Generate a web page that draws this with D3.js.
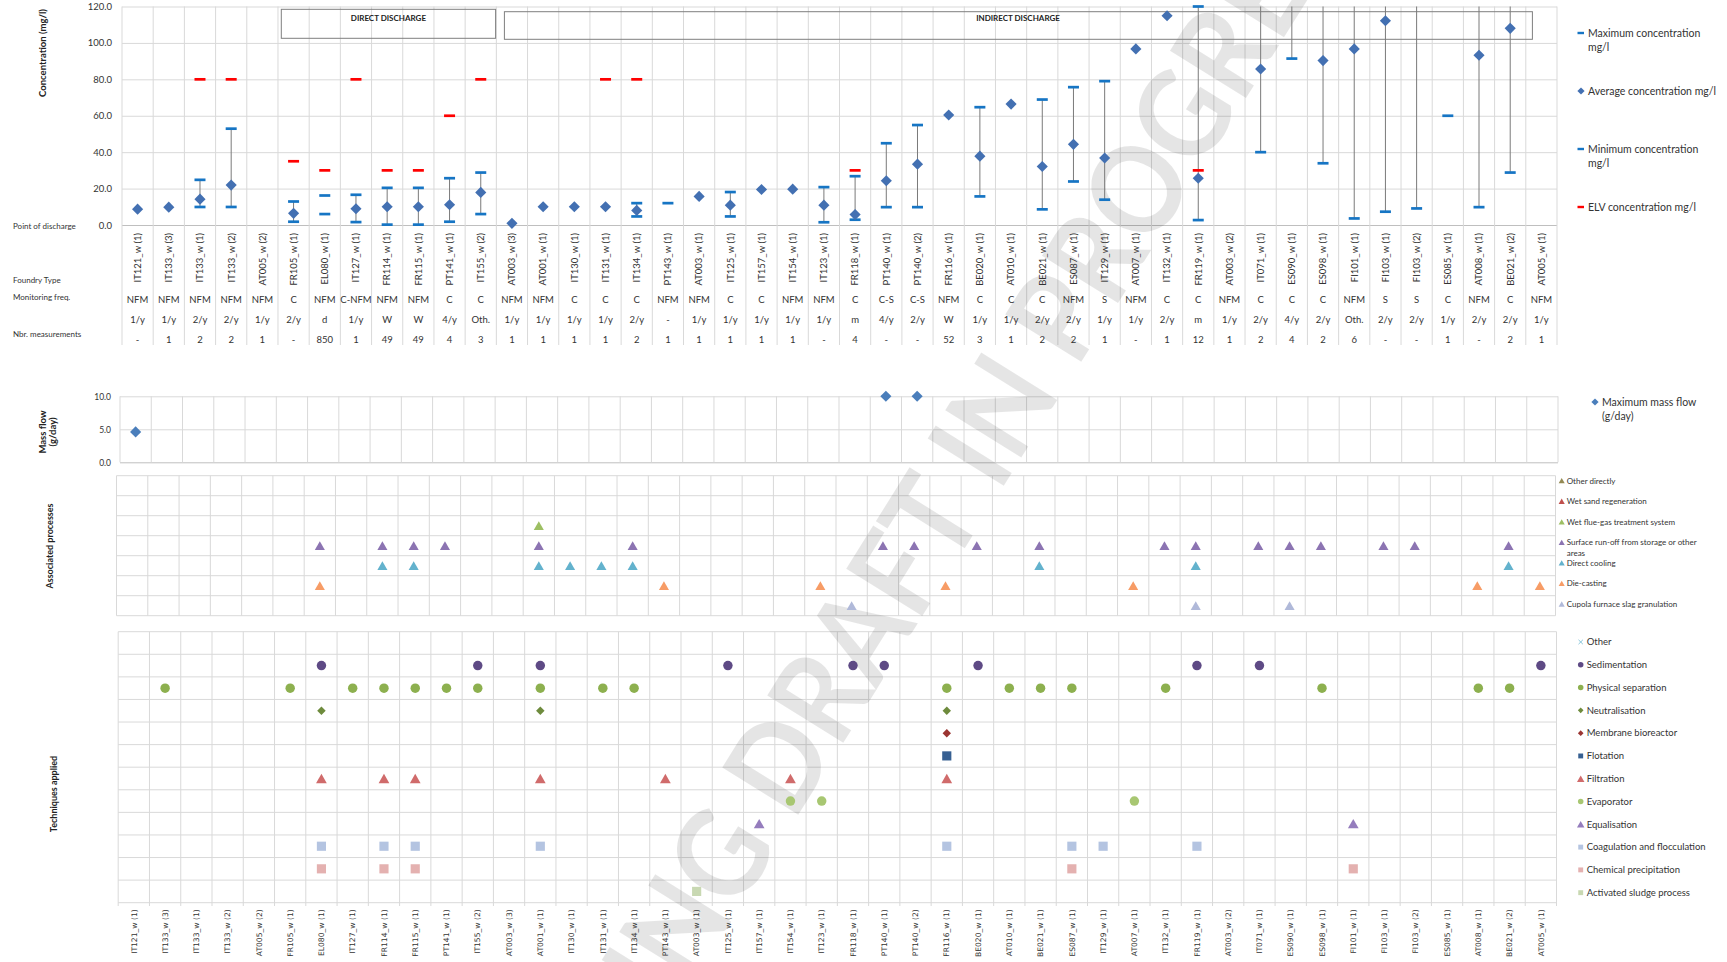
<!DOCTYPE html>
<html>
<head>
<meta charset="utf-8">
<script src="https://cdn.jsdelivr.net/npm/d3@7"></script>
<style>
  html, body { margin: 0; padding: 0; background: #fff; }
  svg { display: block; font-family: Lato, "Liberation Sans", sans-serif; }
</style>
</head>
<body>
<svg id="chart" width="1727" height="962"></svg>
<script>
// ---------------- data ----------------
const categories = ["IT121_w (1)","IT133_w (3)","IT133_w (1)","IT133_w (2)","AT005_w (2)","FR105_w (1)","EL080_w (1)","IT127_w (1)","FR114_w (1)","FR115_w (1)","PT141_w (1)","IT155_w (2)","AT003_w (3)","AT001_w (1)","IT130_w (1)","IT131_w (1)","IT134_w (1)","PT143_w (1)","AT003_w (1)","IT125_w (1)","IT157_w (1)","IT154_w (1)","IT123_w (1)","FR118_w (1)","PT140_w (1)","PT140_w (2)","FR116_w (1)","BE020_w (1)","AT010_w (1)","BE021_w (1)","ES087_w (1)","IT129_w (1)","AT007_w (1)","IT132_w (1)","FR119_w (1)","AT003_w (2)","IT071_w (1)","ES090_w (1)","ES098_w (1)","FI101_w (1)","FI103_w (1)","FI103_w (2)","ES085_w (1)","AT008_w (1)","BE021_w (2)","AT005_w (1)"];

// concentrations in mg/l (values above 120 run off the top of the axis)
const maxConc = [null,null,24.8,52.9,null,12.9,16.2,16.6,20.4,20.4,25.7,28.8,null,null,null,null,12.0,12.0,null,18.1,null,null,20.8,26.8,44.9,54.9,null,64.7,null,68.9,75.7,79.0,null,null,120.0,null,180,180,180,180,180,180,null,180,180,null];
const avgConc = [8.7,9.8,14.2,21.9,null,6.4,null,8.9,10.0,10.0,11.1,17.9,0.9,10.0,10.0,10.0,8.0,null,15.7,10.9,19.5,19.7,10.9,5.7,24.3,33.4,60.4,37.8,66.4,32.1,44.3,36.8,96.7,114.9,25.7,null,85.7,130,90.3,96.7,112.2,125,null,93.2,108.0,null];
const minConc = [null,null,9.9,9.9,null,1.8,6.0,1.6,0.2,0.2,1.8,6.0,null,null,null,null,4.7,null,null,4.7,null,null,1.5,2.9,9.8,9.8,null,15.7,null,8.6,23.9,13.9,null,null,2.7,null,40.0,91.4,33.9,3.6,7.3,9.1,60.0,9.8,28.8,null];
const elvConc = [null,null,80,80,null,35,30,80,30,30,60,80,null,null,null,80,80,null,null,null,null,null,null,30,null,null,null,null,null,null,null,null,null,null,30,null,null,null,null,null,null,null,null,null,null,null];
const concTicks = [0,20,40,60,80,100,120];

const foundryType = ["NFM","NFM","NFM","NFM","NFM","C","NFM","C-NFM","NFM","NFM","C","C","NFM","NFM","C","C","C","NFM","NFM","C","C","NFM","NFM","C","C-S","C-S","NFM","C","C","C","NFM","S","NFM","C","C","NFM","C","C","C","NFM","S","S","C","NFM","C","NFM"];
const monitoringFreq = ["1/y","1/y","2/y","2/y","1/y","2/y","d","1/y","W","W","4/y","Oth.","1/y","1/y","1/y","1/y","2/y","-","1/y","1/y","1/y","1/y","1/y","m","4/y","2/y","W","1/y","1/y","2/y","2/y","1/y","1/y","2/y","m","1/y","2/y","4/y","2/y","Oth.","2/y","2/y","1/y","2/y","2/y","1/y"];
const nbrMeasurements = ["-","1","2","2","1","-","850","1","49","49","4","3","1","1","1","1","2","1","1","1","1","1","-","4","-","-","52","3","1","2","2","1","-","1","12","1","2","4","2","6","-","-","1","-","2","1"];

// maximum mass flow in g/day
const massFlow = [4.6,null,null,null,null,null,null,null,null,null,null,null,null,null,null,null,null,null,null,null,null,null,null,null,10.0,10.0,null,null,null,null,null,null,null,null,null,null,null,null,null,null,null,null,null,null,null,null];
const massTicks = [0,5,10];

// associated processes, top row first
const processNames = ["Other directly","Wet sand regeneration","Wet flue-gas treatment system","Surface run-off from storage or other areas","Direct cooling","Die-casting","Cupola furnace slag granulation"];
const processOtherDirectly = [];
const processWetSand = [];
const processWetFlueGas = ["AT001_w (1)"];
const processSurfaceRunoff = ["EL080_w (1)","FR114_w (1)","FR115_w (1)","PT141_w (1)","AT001_w (1)","IT134_w (1)","PT140_w (1)","PT140_w (2)","BE020_w (1)","BE021_w (1)","IT132_w (1)","FR119_w (1)","IT071_w (1)","ES090_w (1)","ES098_w (1)","FI103_w (1)","FI103_w (2)","BE021_w (2)"];
const processDirectCooling = ["FR114_w (1)","FR115_w (1)","AT001_w (1)","IT130_w (1)","IT131_w (1)","IT134_w (1)","BE021_w (1)","FR119_w (1)","BE021_w (2)"];
const processDieCasting = ["EL080_w (1)","PT143_w (1)","IT123_w (1)","FR116_w (1)","AT007_w (1)","AT008_w (1)","AT005_w (1)"];
const processCupola = ["FR118_w (1)","FR119_w (1)","ES090_w (1)"];
const processColors = ["#948a54","#c0504d","#9dbf63","#8c74b2","#63b2cd","#f79c66","#b0b9d9"];

// techniques applied, top row first
const techNames = ["Other","Sedimentation","Physical separation","Neutralisation","Membrane bioreactor","Flotation","Filtration","Evaporator","Equalisation","Coagulation and flocculation","Chemical precipitation","Activated sludge process"];
const techOther = [];
const techSedimentation = ["EL080_w (1)","IT155_w (2)","AT001_w (1)","IT125_w (1)","FR118_w (1)","PT140_w (1)","BE020_w (1)","FR119_w (1)","IT071_w (1)","AT005_w (1)"];
const techPhysical = ["IT133_w (3)","FR105_w (1)","IT127_w (1)","FR114_w (1)","FR115_w (1)","PT141_w (1)","IT155_w (2)","AT001_w (1)","IT131_w (1)","IT134_w (1)","FR116_w (1)","AT010_w (1)","BE021_w (1)","ES087_w (1)","IT132_w (1)","ES098_w (1)","AT008_w (1)","BE021_w (2)"];
const techNeutralisation = ["EL080_w (1)","AT001_w (1)","FR116_w (1)"];
const techMembrane = ["FR116_w (1)"];
const techFlotation = ["FR116_w (1)"];
const techFiltration = ["EL080_w (1)","FR114_w (1)","FR115_w (1)","AT001_w (1)","PT143_w (1)","IT154_w (1)","FR116_w (1)"];
const techEvaporator = ["IT154_w (1)","IT123_w (1)","AT007_w (1)"];
const techEqualisation = ["IT157_w (1)","FI101_w (1)"];
const techCoagulation = ["EL080_w (1)","FR114_w (1)","FR115_w (1)","AT001_w (1)","FR116_w (1)","ES087_w (1)","IT129_w (1)","FR119_w (1)"];
const techChemPrecip = ["EL080_w (1)","FR114_w (1)","FR115_w (1)","ES087_w (1)","FI101_w (1)"];
const techActivatedSludge = ["AT003_w (1)"];
const techColors = ["#86c5da","#5e4a85","#8db04f","#6e8b3d","#9b3532","#376092","#d06b6b","#a8c772","#957dbd","#b4c4e1","#e4b1b0","#c8d8b2"];
const techShapes = ["x","circle","circle","diamond","diamond","square","triangle","circle","triangle","square","square","square"];

// ---------------- drawing ----------------
const svg = d3.select("#chart");
const defs = svg.append("defs");
const gridLayer = svg.append("g");
const wmLayer = svg.append("g");
const markLayer = svg.append("g");
const textColor = "#333";
const gridColor = "#d9d9d9";
const idx = d3.range(categories.length);

function columnEdges(sc) {
  return categories.map(c => sc(c)).concat([sc.range()[1]]);
}
function symbolFor(shape, size) {
  if (shape === "circle") return d3.symbol().type(d3.symbolCircle).size(size)();
  if (shape === "square" || shape === "diamond") return d3.symbol().type(d3.symbolSquare).size(size)();
  if (shape === "triangle") return d3.symbol().type(d3.symbolTriangle).size(size)();
  return d3.symbol().type(d3.symbolX).size(size)();
}
function shapeTransform(shape, x, y, size) {
  if (shape === "diamond") return `translate(${x},${y}) rotate(45)`;
  if (shape === "triangle") return `translate(${x},${y + Math.sqrt(size / (3 * Math.sqrt(3))) / 2})`;
  return `translate(${x},${y})`;
}

// ===== Concentration panel =====
const xC = d3.scaleBand().domain(categories).range([122, 1557]);
const yC = d3.scaleLinear().domain([0, 120]).range([225, 6.5]);
const yClamp = yC.copy().clamp(true);
const cxC = i => xC(categories[i]) + xC.bandwidth() / 2;

const yAxisC = gridLayer.append("g").attr("transform", "translate(122,0)")
  .call(d3.axisLeft(yC).tickValues(concTicks).tickFormat(d3.format(".1f"))
    .tickSize(-(1557 - 122)).tickPadding(10));
yAxisC.select(".domain").remove();
yAxisC.selectAll("line").attr("stroke", d => d === 0 ? "#bfbfbf" : gridColor);
yAxisC.selectAll("text").attr("font-family", "Lato").attr("font-size", 9.5).attr("fill", textColor);

gridLayer.append("g").selectAll("line").data(columnEdges(xC)).join("line")
  .attr("x1", d => d).attr("x2", d => d).attr("y1", 6.5).attr("y2", 345)
  .attr("stroke", gridColor);

// discharge boxes
markLayer.append("rect").attr("x", 281.3).attr("y", 9.3).attr("width", 214.3).attr("height", 29)
  .attr("fill", "none").attr("stroke", "#7f7f7f");
markLayer.append("text").attr("x", 388.4).attr("y", 17.7).attr("dy", "0.35em").attr("text-anchor", "middle")
  .attr("font-size", 8).attr("font-weight", "bold").attr("fill", "#222").text("DIRECT DISCHARGE");
markLayer.append("rect").attr("x", 504.4).attr("y", 11.7).attr("width", 1028).attr("height", 27.6)
  .attr("fill", "none").attr("stroke", "#7f7f7f");
markLayer.append("text").attr("x", 1018).attr("y", 18.3).attr("dy", "0.35em").attr("text-anchor", "middle")
  .attr("font-size", 8).attr("font-weight", "bold").attr("fill", "#222").text("INDIRECT DISCHARGE");

defs.append("clipPath").attr("id", "clipConc").append("rect")
  .attr("x", 122).attr("y", 4).attr("width", 1435).attr("height", 225);
const gC = markLayer.append("g").attr("clip-path", "url(#clipConc)");

// min-max range lines
gC.append("g").selectAll("line")
  .data(idx.filter(i => avgConc[i] != null && minConc[i] != null && maxConc[i] != null))
  .join("line")
  .attr("x1", cxC).attr("x2", cxC)
  .attr("y1", i => yClamp(minConc[i])).attr("y2", i => yClamp(maxConc[i]))
  .attr("stroke", "#7a7a7a").attr("stroke-width", 1);

function dashes(values, color) {
  gC.append("g").selectAll("rect").data(idx.filter(i => values[i] != null)).join("rect")
    .attr("x", i => cxC(i) - 5.5).attr("y", i => yC(values[i]) - 1.35)
    .attr("width", 11).attr("height", 2.7).attr("fill", color);
}
dashes(maxConc, "#1675c4");
dashes(minConc, "#1675c4");
dashes(elvConc, "#ff0000");

gC.append("g").selectAll("path").data(idx.filter(i => avgConc[i] != null)).join("path")
  .attr("d", symbolFor("diamond", 62))
  .attr("transform", i => shapeTransform("diamond", cxC(i), yC(avgConc[i])))
  .attr("fill", "#4370b2");

// category labels under the concentration axis
const xAxisC = markLayer.append("g").attr("transform", "translate(0,233)")
  .call(d3.axisBottom(xC).tickSize(0).tickPadding(0));
xAxisC.select(".domain").remove();
xAxisC.selectAll("text")
  .attr("transform", "rotate(-90)").attr("text-anchor", "end")
  .attr("x", 0).attr("y", 0).attr("dy", "0.35em")
  .attr("font-family", "Lato").attr("font-size", 9.5).attr("fill", textColor);

function rowText(values, y) {
  markLayer.append("g").selectAll("text").data(values).join("text")
    .attr("x", (d, i) => cxC(i)).attr("y", y).attr("dy", "0.35em")
    .attr("text-anchor", "middle").attr("font-size", 9.5).attr("fill", textColor)
    .text(d => d);
}
rowText(foundryType, 299.3);
rowText(monitoringFreq, 320);
rowText(nbrMeasurements, 339.3);

const sideLabels = [["Point of discharge", 226], ["Foundry Type", 280], ["Monitoring freq.", 297], ["Nbr. measurements", 334]];
markLayer.append("g").selectAll("text").data(sideLabels).join("text")
  .attr("x", 13).attr("y", d => d[1]).attr("dy", "0.35em")
  .attr("font-size", 8).attr("fill", textColor).text(d => d[0]);

markLayer.append("text").attr("transform", "translate(43,53) rotate(-90)")
  .attr("text-anchor", "middle").attr("dy", "0.35em")
  .attr("font-size", 9.5).attr("font-weight", "bold").attr("fill", "#222")
  .text("Concentration (mg/l)");

// concentration legend
const legC = markLayer.append("g").attr("font-size", 10.5).attr("fill", textColor);
[[33, "#1675c4"], [149, "#1675c4"], [207, "#ff0000"]].forEach(([y, c]) => {
  legC.append("rect").attr("x", 1577.5).attr("y", y - 1.2).attr("width", 6.5).attr("height", 2.4).attr("fill", c);
});
legC.append("path").attr("d", symbolFor("diamond", 26))
  .attr("transform", shapeTransform("diamond", 1581, 91)).attr("fill", "#4370b2");
[["Maximum concentration", 33], ["mg/l", 47], ["Average concentration mg/l", 91],
 ["Minimum concentration", 149], ["mg/l", 163], ["ELV concentration mg/l", 207]].forEach(([t, y]) => {
  legC.append("text").attr("x", 1588).attr("y", y).attr("dy", "0.35em").text(t);
});

// ===== Mass flow panel =====
const xM = d3.scaleBand().domain(categories).range([120, 1558]);
const yM = d3.scaleLinear().domain([0, 10]).range([462.3, 396.3]);
const yAxisM = gridLayer.append("g").attr("transform", "translate(120,0)")
  .call(d3.axisLeft(yM).tickValues(massTicks).tickFormat(d3.format(".1f"))
    .tickSize(-(1558 - 120)).tickPadding(9));
yAxisM.select(".domain").remove();
yAxisM.selectAll("line").attr("stroke", d => d === 0 ? "#bfbfbf" : gridColor);
yAxisM.selectAll("text").attr("font-family", "Lato").attr("font-size", 8.5).attr("fill", textColor);
gridLayer.append("g").selectAll("line").data(columnEdges(xM)).join("line")
  .attr("x1", d => d).attr("x2", d => d).attr("y1", 396.3).attr("y2", 462.3)
  .attr("stroke", gridColor);

markLayer.append("g").selectAll("path").data(idx.filter(i => massFlow[i] != null)).join("path")
  .attr("d", symbolFor("diamond", 62))
  .attr("transform", i => shapeTransform("diamond", xM(categories[i]) + xM.bandwidth() / 2, yM(massFlow[i])))
  .attr("fill", "#4a7ebb");

const massTitle = markLayer.append("text").attr("transform", "translate(48,432) rotate(-90)")
  .attr("text-anchor", "middle").attr("font-size", 9.5).attr("font-weight", "bold").attr("fill", "#222");
massTitle.append("tspan").attr("x", 0).attr("dy", "-0.25em").text("Mass flow");
massTitle.append("tspan").attr("x", 0).attr("dy", "1.1em").text("(g/day)");

markLayer.append("path").attr("d", symbolFor("diamond", 26))
  .attr("transform", shapeTransform("diamond", 1595, 402)).attr("fill", "#4a7ebb");
markLayer.append("text").attr("x", 1602).attr("y", 402).attr("dy", "0.35em")
  .attr("font-size", 10.5).attr("fill", textColor).text("Maximum mass flow");
markLayer.append("text").attr("x", 1602).attr("y", 416).attr("dy", "0.35em")
  .attr("font-size", 10.5).attr("fill", textColor).text("(g/day)");

// ===== Associated processes panel =====
const processSites = [processOtherDirectly, processWetSand, processWetFlueGas, processSurfaceRunoff,
  processDirectCooling, processDieCasting, processCupola];
const xA = d3.scaleBand().domain(categories).range([116.5, 1555.5]);
const yA = d3.scaleBand().domain(processNames).range([475.7, 615.7]);
gridLayer.append("g").selectAll("line").data(processNames.map(p => yA(p)).concat([615.7])).join("line")
  .attr("x1", 116.5).attr("x2", 1555.5).attr("y1", d => d).attr("y2", d => d).attr("stroke", gridColor);
gridLayer.append("g").selectAll("line").data(columnEdges(xA)).join("line")
  .attr("x1", d => d).attr("x2", d => d).attr("y1", 475.7).attr("y2", 615.7).attr("stroke", gridColor);

processNames.forEach((p, r) => {
  markLayer.append("g").selectAll("path").data(processSites[r]).join("path")
    .attr("d", symbolFor("triangle", 44))
    .attr("transform", s => shapeTransform("triangle", xA(s) + xA.bandwidth() / 2, yA(p) + yA.bandwidth() / 2, 44))
    .attr("fill", processColors[r]);
});

markLayer.append("text").attr("transform", "translate(50,546) rotate(-90)")
  .attr("text-anchor", "middle").attr("dy", "0.35em")
  .attr("font-size", 9).attr("font-weight", "bold").attr("fill", "#222").text("Associated processes");

const legA = markLayer.append("g").attr("font-size", 8).attr("fill", textColor);
processNames.forEach((p, r) => {
  const y = 480.7 + r * 20.55;
  legA.append("path").attr("d", symbolFor("triangle", 16))
    .attr("transform", shapeTransform("triangle", 1561.7, y, 16)).attr("fill", processColors[r]);
  if (p.startsWith("Surface")) {
    legA.append("text").attr("x", 1566.7).attr("y", y).attr("dy", "0.35em").text("Surface run-off from storage or other");
    legA.append("text").attr("x", 1566.7).attr("y", y + 11.3).attr("dy", "0.35em").text("areas");
  } else {
    legA.append("text").attr("x", 1566.7).attr("y", y).attr("dy", "0.35em").text(p);
  }
});

// ===== Techniques applied panel =====
const techSites = [techOther, techSedimentation, techPhysical, techNeutralisation, techMembrane, techFlotation,
  techFiltration, techEvaporator, techEqualisation, techCoagulation, techChemPrecip, techActivatedSludge];
const techSizes = {circle: 70, square: 84, diamond: 36, triangle: 50, x: 30};
const xT = d3.scaleBand().domain(categories).range([118.2, 1556.5]);
const yT = d3.scaleBand().domain(techNames).range([631.7, 902.7]);
gridLayer.append("g").selectAll("line").data(techNames.map(t => yT(t)).concat([902.7])).join("line")
  .attr("x1", 118.2).attr("x2", 1556.5).attr("y1", d => d).attr("y2", d => d).attr("stroke", gridColor);
gridLayer.append("g").selectAll("line").data(columnEdges(xT)).join("line")
  .attr("x1", d => d).attr("x2", d => d).attr("y1", 631.7).attr("y2", 906).attr("stroke", gridColor);

techNames.forEach((t, r) => {
  const shape = techShapes[r], size = techSizes[shape];
  const sel = markLayer.append("g").selectAll("path").data(techSites[r]).join("path")
    .attr("d", symbolFor(shape, size))
    .attr("transform", s => shapeTransform(shape, xT(s) + xT.bandwidth() / 2, yT(t) + yT.bandwidth() / 2, size));
  if (shape === "x") sel.attr("fill", "none").attr("stroke", techColors[r]).attr("stroke-width", 1.2);
  else sel.attr("fill", techColors[r]);
});

const xAxisT = markLayer.append("g").attr("transform", "translate(0,909.3)")
  .call(d3.axisBottom(xT).tickSize(0).tickPadding(0));
xAxisT.select(".domain").remove();
xAxisT.selectAll("text")
  .attr("transform", "rotate(-90)").attr("text-anchor", "end")
  .attr("x", 0).attr("y", 0).attr("dy", "0.35em")
  .attr("font-family", "DejaVu Sans").attr("font-size", 7.6).attr("fill", textColor);

markLayer.append("text").attr("transform", "translate(54,794) rotate(-90)")
  .attr("text-anchor", "middle").attr("dy", "0.35em")
  .attr("font-size", 9).attr("font-weight", "bold").attr("fill", "#222").text("Techniques applied");

const legT = markLayer.append("g").attr("font-size", 9.5).attr("fill", textColor);
techNames.forEach((t, r) => {
  const y = 642 + r * 22.79;
  const shape = techShapes[r];
  const size = shape === "diamond" ? 16 : (shape === "x" ? 14 : 24);
  const m = legT.append("path").attr("d", symbolFor(shape, size))
    .attr("transform", shapeTransform(shape, 1580.7, y, size));
  if (shape === "x") m.attr("fill", "none").attr("stroke", techColors[r]).attr("stroke-width", 1);
  else m.attr("fill", techColors[r]);
  legT.append("text").attr("x", 1586.7).attr("y", y).attr("dy", "0.35em").text(t);
});

// ===== draft watermark =====
wmLayer.append("text")
  .attr("transform", "translate(895,578) rotate(-58) scale(0.9,1)")
  .attr("text-anchor", "middle").attr("dy", "0.35em")
  .attr("font-size", 124).attr("font-weight", "bold")
  .attr("fill", "#000").attr("fill-opacity", 0.1)
  .text("WORKING DRAFT IN PROGRESS");
</script>
</body>
</html>
